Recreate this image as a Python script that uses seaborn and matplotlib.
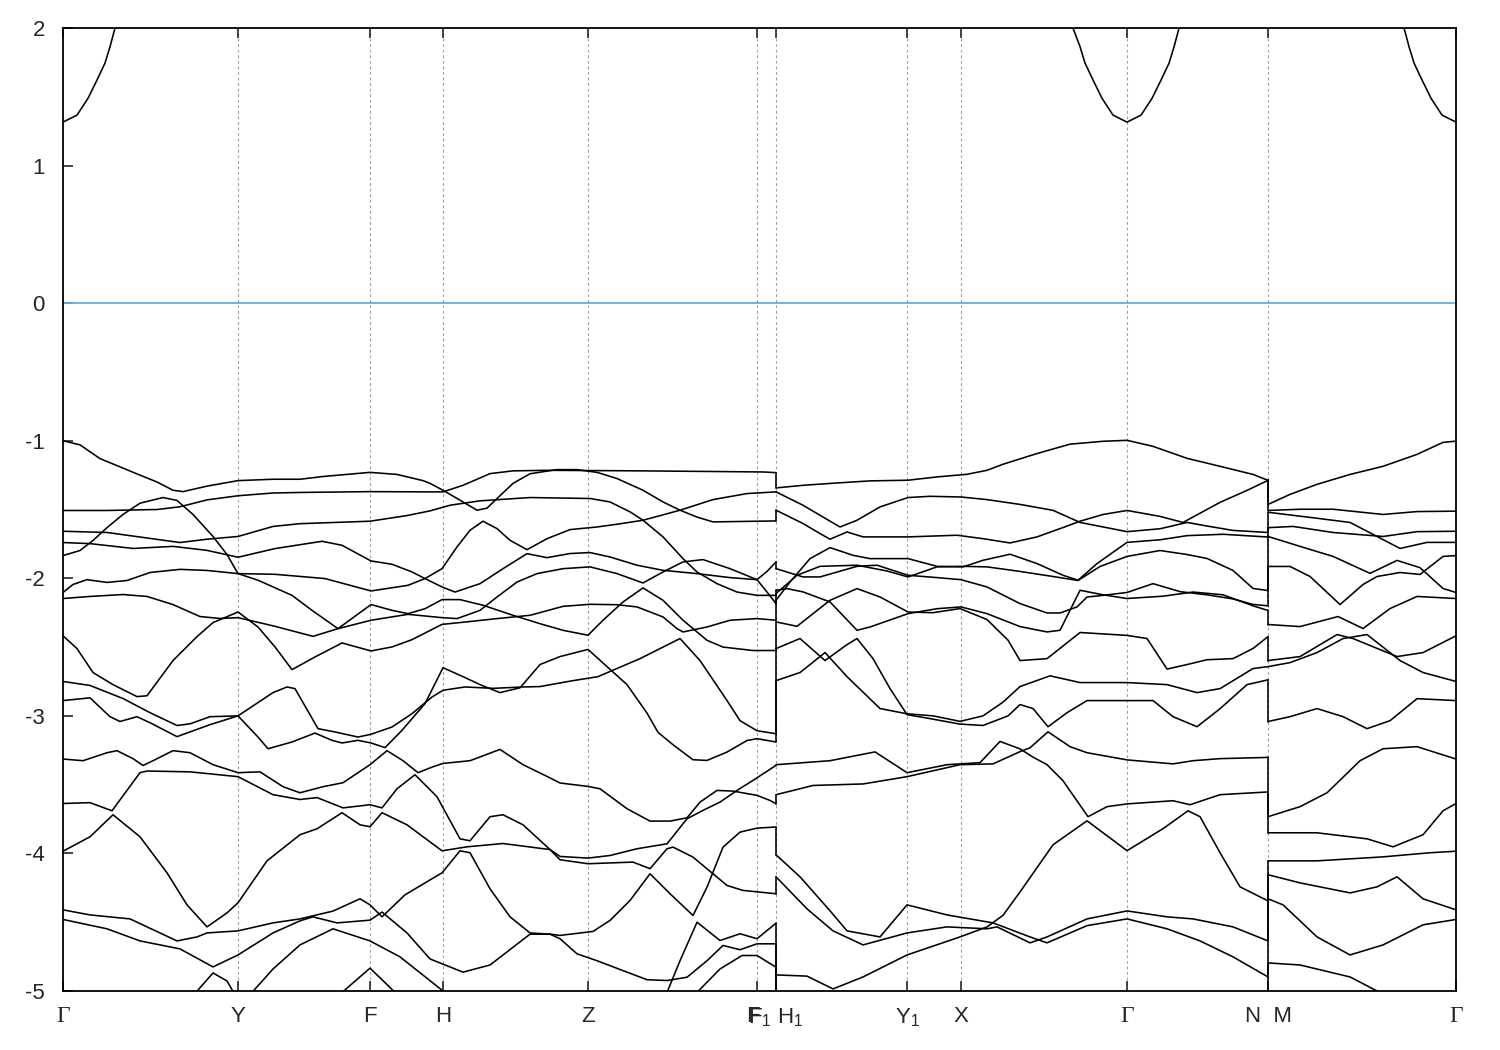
import numpy as np
import pandas as pd
import matplotlib
matplotlib.use("Agg")
import matplotlib.pyplot as plt
from matplotlib.transforms import ScaledTranslation
import seaborn as sns

# ---------------- data ----------------
# high-symmetry points (k-point index along the path)
K_TICKS = [0, 175, 307, 380, 525, 694, 713, 844, 898, 1064, 1205, 1393]
K_LABELS = ["Γ", "Y", "F", "H", "Z", "F", "F$_1$ H$_1$", "Y$_1$", "X", "Γ", "N  M", "Γ"]
K_BREAKS = [713, 1205]
FERMI = 0.0

# conduction band (eV)
cb_1 = [(0, 1.316), (14, 1.367), (25, 1.489), (34, 1.622), (42, 1.745), (47, 1.864), (52, 2.0), (55, 2.08)]
cb_2 = [(1006, 2.08), (1012, 1.96), (1017, 1.864), (1022, 1.745), (1030, 1.622), (1039, 1.489), (1050, 1.367),
        (1064, 1.316), (1078, 1.367), (1089, 1.489), (1098, 1.622), (1106, 1.745), (1111, 1.864), (1116, 2.0), (1119, 2.08)]
cb_3 = [(1337, 2.08), (1341, 2.0), (1346, 1.864), (1351, 1.745), (1359, 1.622), (1368, 1.489), (1379, 1.367), (1393, 1.316)]

# segment 1 : Γ-Y-F-H-Z-F-F1
s1_a = [(0,-1.00),(17,-1.03),(37,-1.13),(57,-1.19),(77,-1.25),(94,-1.30),(110,-1.36),(120,-1.37),(144,-1.33),(175,-1.29),(210,-1.28),(237,-1.28),(260,-1.26),(307,-1.23),(334,-1.245),(360,-1.29),(367,-1.31),(380,-1.36),(400,-1.445),(414,-1.505),(424,-1.49),(434,-1.42),(450,-1.31),(467,-1.24),(494,-1.21),(514,-1.21),(534,-1.23),(554,-1.275),(580,-1.36),(600,-1.445),(617,-1.505),(634,-1.555),(650,-1.59),(713,-1.583)]
s1_b = [(0,-1.507),(44,-1.507),(94,-1.50),(117,-1.48),(144,-1.43),(175,-1.40),(210,-1.38),(237,-1.376),(307,-1.37),(367,-1.372),(380,-1.372),(400,-1.324),(427,-1.239),(450,-1.219),(484,-1.215),(577,-1.219),(700,-1.227),(713,-1.232)]
s1_c = [(0,-1.658),(44,-1.667),(77,-1.70),(117,-1.74),(144,-1.716),(175,-1.696),(210,-1.623),(237,-1.603),(307,-1.585),(344,-1.544),(367,-1.51),(387,-1.469),(417,-1.437),(467,-1.413),(527,-1.42),(547,-1.445),(567,-1.517),(580,-1.578),(600,-1.699),(620,-1.857),(634,-1.954),(654,-2.039),(674,-2.10),(694,-2.124),(713,-2.124)]
s1_d = [(0,-1.74),(27,-1.748),(70,-1.783),(110,-1.768),(144,-1.797),(175,-1.847),(212,-1.784),(259,-1.731),(279,-1.76),(308,-1.874),(329,-1.898),(349,-1.954),(362,-2.002),(379,-2.063),(392,-2.10),(417,-2.039),(440,-1.93),(464,-1.821),(484,-1.85),(507,-1.82),(527,-1.813),(547,-1.845),(574,-1.905),(600,-1.942),(634,-1.966),(667,-1.995),(694,-2.01),(704,-1.95),(713,-1.881)]
s1_e = [(0,-1.835),(17,-1.798),(30,-1.725),(44,-1.632),(60,-1.536),(77,-1.454),(100,-1.413),(114,-1.434),(130,-1.536),(150,-1.696),(164,-1.827),(175,-1.966),(195,-2.014),(229,-2.124),(249,-2.233),(275,-2.366),(308,-2.191),(329,-2.233),(345,-2.257),(362,-2.221),(379,-2.155),(397,-2.155),(420,-2.196),(450,-2.269),(477,-2.33),(500,-2.378),(525,-2.414),(540,-2.305),(560,-2.172),(580,-2.07),(600,-2.16),(620,-2.305),(644,-2.451),(660,-2.50),(690,-2.525),(713,-2.525)]
s1_f = [(0,-2.103),(10,-2.045),(24,-2.01),(44,-2.03),(64,-2.016),(87,-1.958),(117,-1.935),(144,-1.943),(175,-1.966),(212,-1.971),(262,-2.002),(308,-2.092),(345,-2.051),(362,-2.002),(379,-1.93),(394,-1.772),(407,-1.651),(420,-1.585),(434,-1.639),(447,-1.724),(464,-1.792),(484,-1.712),(507,-1.646),(534,-1.627),(554,-1.607),(580,-1.578),(617,-1.505),(650,-1.428),(684,-1.384),(713,-1.372)]
s1_g = [(0,-2.147),(27,-2.132),(60,-2.118),(84,-2.132),(110,-2.191),(137,-2.278),(157,-2.292),(175,-2.286),(212,-2.349),(250,-2.422),(275,-2.366),(308,-2.305),(345,-2.262),(379,-2.286),(394,-2.293),(417,-2.233),(434,-2.136),(454,-2.027),(474,-1.966),(500,-1.93),(527,-1.917),(554,-1.966),(580,-2.034),(600,-1.954),(620,-1.881),(640,-1.864),(667,-1.93),(694,-2.01),(704,-2.1),(713,-2.184)]
s1_h = [(0,-2.418),(14,-2.511),(30,-2.685),(50,-2.773),(74,-2.86),(84,-2.854),(110,-2.598),(134,-2.424),(150,-2.322),(175,-2.245),(195,-2.354),(212,-2.499),(229,-2.664),(252,-2.572),(279,-2.47),(308,-2.528),(329,-2.499),(349,-2.446),(379,-2.335),(402,-2.318),(434,-2.293),(467,-2.269),(500,-2.204),(527,-2.189),(554,-2.192),(574,-2.208),(600,-2.281),(614,-2.366),(620,-2.39),(644,-2.354),(667,-2.305),(694,-2.293),(713,-2.305)]
s1_i = [(0,-2.75),(27,-2.779),(60,-2.874),(87,-2.977),(114,-3.07),(127,-3.058),(147,-3.006),(175,-3.0),(210,-2.831),(224,-2.79),(232,-2.802),(255,-3.093),(272,-3.117),(295,-3.154),(308,-3.134),(329,-3.081),(349,-2.984),(369,-2.863),(380,-2.814),(402,-2.79),(430,-2.80),(460,-2.79),(477,-2.787),(510,-2.744),(535,-2.715),(549,-2.671),(577,-2.584),(617,-2.438),(637,-2.598),(664,-2.889),(677,-3.035),(694,-3.108),(713,-3.13)]
s1_j = [(0,-2.889),(27,-2.869),(47,-3.006),(57,-3.041),(74,-3.006),(87,-3.05),(114,-3.151),(147,-3.064),(175,-3.0),(195,-3.154),(205,-3.239),(229,-3.19),(252,-3.125),(269,-3.178),(279,-3.197),(295,-3.178),(308,-3.197),(322,-3.231),(339,-3.105),(362,-2.911),(380,-2.65),(400,-2.715),(417,-2.773),(437,-2.831),(457,-2.796),(477,-2.627),(497,-2.569),(525,-2.517),(544,-2.642),(564,-2.773),(584,-2.98),(595,-3.12),(610,-3.21),(630,-3.319),(644,-3.324),(664,-3.263),(684,-3.179),(694,-3.166),(713,-3.19)]
s1_k = [(0,-3.314),(20,-3.326),(44,-3.268),(54,-3.253),(70,-3.311),(80,-3.361),(90,-3.326),(110,-3.253),(127,-3.268),(150,-3.355),(175,-3.413),(197,-3.407),(220,-3.515),(237,-3.559),(260,-3.515),(280,-3.486),(307,-3.355),(324,-3.253),(340,-3.326),(355,-3.413),(370,-3.37),(380,-3.346),(407,-3.326),(437,-3.244),(460,-3.355),(487,-3.451),(497,-3.488),(525,-3.513),(537,-3.53),(564,-3.675),(587,-3.765),(607,-3.765),(624,-3.741),(637,-3.627),(654,-3.542),(670,-3.547),(694,-3.578),(707,-3.615),(713,-3.639)]
s1_l = [(0,-3.637),(27,-3.631),(49,-3.69),(77,-3.413),(84,-3.401),(127,-3.407),(175,-3.442),(210,-3.573),(237,-3.608),(254,-3.594),(280,-3.669),(307,-3.646),(319,-3.669),(334,-3.53),(352,-3.428),(374,-3.588),(397,-3.894),(407,-3.908),(427,-3.733),(440,-3.719),(460,-3.792),(487,-3.972),(497,-4.022),(525,-4.034),(547,-4.015),(574,-3.966),(604,-3.93),(624,-3.748),(640,-3.687),(657,-3.627),(674,-3.542),(690,-3.469),(713,-3.36)]
s1_m = [(0,-3.984),(27,-3.879),(50,-3.719),(77,-3.879),(104,-4.141),(124,-4.374),(144,-4.534),(164,-4.432),(175,-4.359),(204,-4.054),(237,-3.864),(254,-3.821),(279,-3.704),(297,-3.792),(307,-3.806),(319,-3.704),(344,-3.792),(379,-3.981),(404,-3.952),(440,-3.928),(487,-3.972),(497,-4.046),(525,-4.075),(570,-4.063),(587,-4.111),(604,-3.966),(610,-3.954),(630,-4.027),(650,-4.148),(664,-4.233),(680,-4.269),(713,-4.293)]
s1_n = [(0,-4.41),(27,-4.447),(67,-4.476),(114,-4.636),(134,-4.607),(144,-4.578),(175,-4.563),(210,-4.505),(237,-4.476),(270,-4.419),(297,-4.33),(307,-4.374),(319,-4.461),(342,-4.301),(379,-4.141),(397,-3.981),(407,-3.995),(427,-4.257),(447,-4.461),(467,-4.578),(487,-4.587),(497,-4.596),(530,-4.567),(547,-4.487),(567,-4.342),(587,-4.148),(607,-4.293),(630,-4.451),(644,-4.245),(660,-3.954),(677,-3.845),(694,-3.816),(713,-3.808)]
s1_o = [(0,-4.48),(44,-4.548),(77,-4.636),(117,-4.694),(150,-4.825),(175,-4.738),(210,-4.578),(237,-4.49),(250,-4.461),(274,-4.505),(307,-4.485),(319,-4.426),(344,-4.578),(367,-4.767),(400,-4.863),(427,-4.811),(467,-4.587),(487,-4.587),(497,-4.62),(514,-4.73),(534,-4.78),(564,-4.863),(584,-4.918),(604,-4.924),(624,-4.9),(644,-4.78),(660,-4.669),(677,-4.7),(694,-4.657),(713,-4.657)]
s1_p = [(178,-5.1),(210,-4.84),(237,-4.665),(270,-4.548),(307,-4.636),(337,-4.752),(380,-5.0),(392,-5.08)]
s1_q = [(122,-5.1),(150,-4.869),(164,-4.927),(176,-5.08)]
s1_r = [(268,-5.08),(307,-4.834),(342,-5.08)]
s1_s = [(600,-5.12),(604,-5.01),(617,-4.78),(634,-4.5),(657,-4.633),(677,-4.584),(694,-4.62),(713,-4.507)]
s1_t = [(630,-5.12),(634,-5.01),(657,-4.84),(679,-4.742),(694,-4.742),(713,-4.827)]

# segment 2 : H1-Y1-X-Γ-N
s2_a = [(713,-1.343),(740,-1.324),(774,-1.307),(807,-1.292),(845,-1.287),(874,-1.263),(904,-1.244),(924,-1.215),(940,-1.171),(974,-1.093),(1007,-1.025),(1040,-1.004),(1064,-0.997),(1090,-1.041),(1124,-1.128),(1157,-1.186),(1190,-1.245),(1205,-1.288)]
s2_b = [(713,-1.372),(740,-1.469),(757,-1.542),(777,-1.627),(794,-1.578),(817,-1.481),(845,-1.413),(867,-1.404),(898,-1.409),(924,-1.428),(957,-1.463),(990,-1.506),(1017,-1.594),(1064,-1.661),(1097,-1.640),(1124,-1.594),(1144,-1.62),(1170,-1.652),(1205,-1.667)]
s2_c = [(713,-1.505),(740,-1.602),(757,-1.675),(767,-1.716),(784,-1.663),(800,-1.699),(845,-1.699),(894,-1.687),(920,-1.712),(947,-1.743),(974,-1.699),(1000,-1.631),(1017,-1.585),(1040,-1.536),(1064,-1.507),(1097,-1.55),(1120,-1.594),(1157,-1.448),(1184,-1.361),(1205,-1.288)]
s2_d = [(713,-2.16),(727,-2.027),(747,-1.857),(767,-1.777),(790,-1.833),(807,-1.857),(845,-1.857),(874,-1.913),(900,-1.917),(920,-1.869),(947,-1.825),(974,-1.893),(1000,-1.978),(1015,-2.014),(1034,-1.893),(1064,-1.739),(1097,-1.72),(1124,-1.69),(1160,-1.68),(1205,-1.70)]
s2_e = [(713,-2.111),(734,-1.978),(757,-1.913),(794,-1.905),(824,-1.947),(845,-1.99),(874,-1.917),(900,-1.913),(924,-1.917),(954,-1.947),(990,-1.987),(1015,-2.016),(1037,-1.914),(1064,-1.841),(1097,-1.798),(1124,-1.827),(1144,-1.856),(1170,-1.943),(1190,-2.074),(1205,-2.089)]
s2_f = [(713,-1.93),(740,-1.99),(757,-1.99),(794,-1.913),(814,-1.905),(845,-1.978),(874,-1.995),(898,-2.01),(924,-2.063),(957,-2.184),(984,-2.252),(997,-2.252),(1014,-2.208),(1024,-2.136),(1040,-2.124),(1064,-2.103),(1090,-2.039),(1117,-2.097),(1144,-2.12),(1170,-2.15),(1190,-2.19),(1205,-2.2)]
s2_g = [(713,-2.087),(724,-2.075),(740,-2.099),(767,-2.172),(794,-2.378),(807,-2.354),(845,-2.257),(874,-2.221),(898,-2.208),(924,-2.257),(957,-2.351),(984,-2.39),(997,-2.378),(1017,-2.087),(1040,-2.12),(1064,-2.147),(1100,-2.13),(1130,-2.10),(1160,-2.12),(1190,-2.2),(1205,-2.234)]
s2_h = [(713,-2.317),(734,-2.349),(750,-2.257),(767,-2.16),(794,-2.075),(817,-2.136),(845,-2.245),(870,-2.25),(897,-2.22),(924,-2.30),(945,-2.45),(957,-2.598),(984,-2.584),(1017,-2.394),(1064,-2.415),(1084,-2.438),(1104,-2.66),(1124,-2.627),(1144,-2.592),(1170,-2.584),(1190,-2.51),(1205,-2.424)]
s2_i = [(713,-2.511),(737,-2.438),(762,-2.598),(784,-2.482),(794,-2.438),(810,-2.584),(827,-2.802),(844,-2.991),(867,-3.02),(897,-3.06),(920,-3.07),(945,-3.0),(957,-2.918),(970,-2.947),(985,-3.079),(1004,-2.977),(1024,-2.889),(1064,-2.889),(1090,-2.889),(1110,-3.006),(1134,-3.079),(1157,-2.948),(1184,-2.773),(1205,-2.738)]
s2_j = [(713,-2.744),(737,-2.685),(762,-2.54),(784,-2.715),(817,-2.947),(844,-2.985),(870,-3.0),(897,-3.04),(920,-3.0),(940,-2.90),(957,-2.787),(987,-2.709),(1017,-2.758),(1064,-2.758),(1104,-2.773),(1134,-2.831),(1157,-2.802),(1190,-2.656),(1205,-2.642)]
s2_k = [(713,-3.355),(767,-3.326),(812,-3.262),(844,-3.413),(884,-3.355),(917,-3.34),(937,-3.186),(957,-3.24),(970,-3.30),(984,-3.355),(1000,-3.472),(1025,-3.733),(1044,-3.66),(1064,-3.64),(1110,-3.617),(1127,-3.646),(1157,-3.573),(1205,-3.553)]
s2_l = [(713,-3.573),(750,-3.506),(800,-3.495),(844,-3.442),(897,-3.355),(930,-3.349),(957,-3.26),(967,-3.232),(985,-3.116),(1007,-3.224),(1024,-3.268),(1064,-3.32),(1110,-3.349),(1130,-3.326),(1157,-3.311),(1205,-3.302)]
s2_m = [(713,-4.01),(737,-4.17),(767,-4.417),(784,-4.563),(817,-4.607),(844,-4.374),(884,-4.447),(930,-4.505),(967,-4.607),(984,-4.65),(1024,-4.525),(1064,-4.476),(1104,-4.548),(1137,-4.636),(1170,-4.752),(1205,-4.898)]
s2_n = [(713,-4.17),(744,-4.403),(770,-4.563),(800,-4.665),(844,-4.578),(884,-4.534),(924,-4.548),(934,-4.534),(967,-4.65),(984,-4.607),(1024,-4.476),(1064,-4.418),(1104,-4.461),(1130,-4.476),(1170,-4.534),(1205,-4.636)]
s2_o = [(713,-4.883),(744,-4.892),(770,-4.985),(800,-4.898),(844,-4.738),(897,-4.607),(924,-4.534),(940,-4.45),(957,-4.28),(990,-3.937),(1024,-3.763),(1064,-3.98),(1100,-3.82),(1125,-3.69),(1137,-3.733),(1157,-3.995),(1177,-4.243),(1205,-4.345)]

# segment 3 : M-Γ
s3_a = [(1205,-1.463),(1227,-1.39),(1254,-1.317),(1287,-1.245),(1320,-1.186),(1354,-1.099),(1380,-1.012),(1393,-1.003)]
s3_b = [(1205,-1.507),(1237,-1.498),(1270,-1.498),(1320,-1.536),(1354,-1.515),(1393,-1.512)]
s3_c = [(1205,-1.52),(1250,-1.56),(1287,-1.594),(1337,-1.783),(1364,-1.739),(1393,-1.739)]
s3_d = [(1205,-1.632),(1230,-1.623),(1270,-1.667),(1320,-1.696),(1354,-1.661),(1393,-1.658)]
s3_e = [(1205,-1.696),(1237,-1.768),(1270,-1.841),(1307,-1.964),(1334,-1.87),(1357,-1.923),(1380,-2.074),(1393,-2.103)]
s3_f = [(1205,-1.914),(1227,-1.914),(1247,-1.987),(1277,-2.191),(1300,-2.045),(1314,-1.987),(1337,-1.958),(1357,-1.972),(1380,-1.841),(1393,-1.835)]
s3_g = [(1205,-2.336),(1237,-2.351),(1275,-2.278),(1300,-2.365),(1327,-2.22),(1354,-2.132),(1393,-2.147)]
s3_h = [(1205,-2.598),(1237,-2.569),(1274,-2.409),(1290,-2.438),(1334,-2.569),(1360,-2.54),(1393,-2.418)]
s3_i = [(1205,-2.642),(1227,-2.613),(1254,-2.54),(1280,-2.438),(1304,-2.409),(1337,-2.598),(1360,-2.685),(1393,-2.75)]
s3_j = [(1205,-3.041),(1227,-3.006),(1254,-2.947),(1280,-3.006),(1304,-3.093),(1327,-3.035),(1354,-2.875),(1393,-2.889)]
s3_k = [(1205,-3.733),(1237,-3.66),(1264,-3.559),(1297,-3.326),(1320,-3.239),(1354,-3.224),(1393,-3.314)]
s3_l = [(1205,-3.85),(1254,-3.85),(1304,-3.894),(1330,-3.952),(1360,-3.864),(1380,-3.69),(1393,-3.637)]
s3_m = [(1205,-4.054),(1254,-4.054),(1320,-4.025),(1367,-3.995),(1393,-3.984)]
s3_n = [(1205,-4.155),(1237,-4.214),(1287,-4.287),(1314,-4.243),(1334,-4.17),(1360,-4.33),(1393,-4.41)]
s3_o = [(1205,-4.33),(1220,-4.374),(1254,-4.607),(1287,-4.738),(1320,-4.665),(1360,-4.519),(1393,-4.48)]
s3_p = [(1205,-4.796),(1237,-4.811),(1287,-4.898),(1314,-5.0),(1325,-5.08)]

SEG1 = [s1_a, s1_b, s1_c, s1_d, s1_e, s1_f, s1_g, s1_h, s1_i, s1_j, s1_k, s1_l, s1_m, s1_n, s1_o, s1_p, s1_q, s1_r, s1_s, s1_t]
SEG2 = [s2_a, s2_b, s2_c, s2_d, s2_e, s2_f, s2_g, s2_h, s2_i, s2_j, s2_k, s2_l, s2_m, s2_n, s2_o]
SEG3 = [s3_a, s3_b, s3_c, s3_d, s3_e, s3_f, s3_g, s3_h, s3_i, s3_j, s3_k, s3_l, s3_m, s3_n, s3_o, s3_p]
CONDUCTION = [cb_1, cb_2, cb_3]

# ---------------- build long table ----------------
rows = []
cid = 0
for curve in CONDUCTION + SEG1 + SEG2 + SEG3:
    for k, e in curve:
        rows.append((cid, k, e))
    cid += 1

# band-index connectors at the path discontinuities (sorted energies paired)
def connectors(left, right, kb):
    global cid
    le = sorted([c[-1][1] for c in left if c[-1][0] == kb], reverse=True)
    re_ = sorted([c[0][1] for c in right if c[0][0] == kb], reverse=True)
    n = max(len(le), len(re_))
    le += [-5.6] * (n - len(le))
    re_ += [-5.6] * (n - len(re_))
    for a, b in zip(le, re_):
        rows.append((cid, kb, a))
        rows.append((cid, kb, b))
        cid += 1

connectors(SEG1, SEG2, K_BREAKS[0])
connectors(SEG2, SEG3, K_BREAKS[1])

df = pd.DataFrame(rows, columns=["curve", "k", "E"])

# ---------------- plot ----------------
sns.set_style("ticks")
plt.rcParams["font.family"] = ["Liberation Sans", "DejaVu Sans"]
plt.rcParams["mathtext.fontset"] = "custom"
plt.rcParams["mathtext.rm"] = "Liberation Sans"
plt.rcParams["mathtext.it"] = "Liberation Sans"
plt.rcParams["axes.unicode_minus"] = False

fig = plt.figure(figsize=(15, 10.5), dpi=100)
ax = fig.add_axes([0.042, 0.0562, 0.9287, 0.9171])

for kx in K_TICKS[1:-1]:
    ax.axvline(kx, color="#a0a0a0", lw=0.8, ls=(0, (2.5, 2.5)), zorder=0)

ax.axhline(FERMI, color="#56B4E9", lw=1.3, zorder=1)

sns.lineplot(data=df, x="k", y="E", units="curve", estimator=None, sort=False,
             color="black", lw=1.15, ax=ax, legend=False, zorder=2)

ax.set_xlim(K_TICKS[0], K_TICKS[-1])
ax.set_ylim(-5, 2)
ax.set_xlabel("")
ax.set_ylabel("")

ax.set_yticks(np.arange(-5, 3, 1))
ax.set_yticklabels([str(v) for v in range(-5, 3)])
ax.set_xticks(K_TICKS)
ax.set_xticklabels(K_LABELS)

ax.tick_params(axis="y", direction="in", length=7, width=1.2, left=True, right=False,
               labelsize=16, pad=13)
ax.tick_params(axis="x", direction="in", length=7, width=1.2, bottom=True, top=True,
               labelsize=16, pad=11)
xlabs = ax.get_xticklabels()
for lab in xlabs:
    if lab.get_text() == "Γ":
        lab.set_fontfamily(["Liberation Serif", "DejaVu Serif"])
        lab.set_fontsize(17)
# the lone "F" label sits slightly left of the "F1 H1" label, as in the reference
xlabs[5].set_transform(xlabs[5].get_transform() + ScaledTranslation(-4 / 100, 0, fig.dpi_scale_trans))
for sp in ax.spines.values():
    sp.set_linewidth(1.3)
    sp.set_color("black")

fig.savefig("out.png", dpi=100)
